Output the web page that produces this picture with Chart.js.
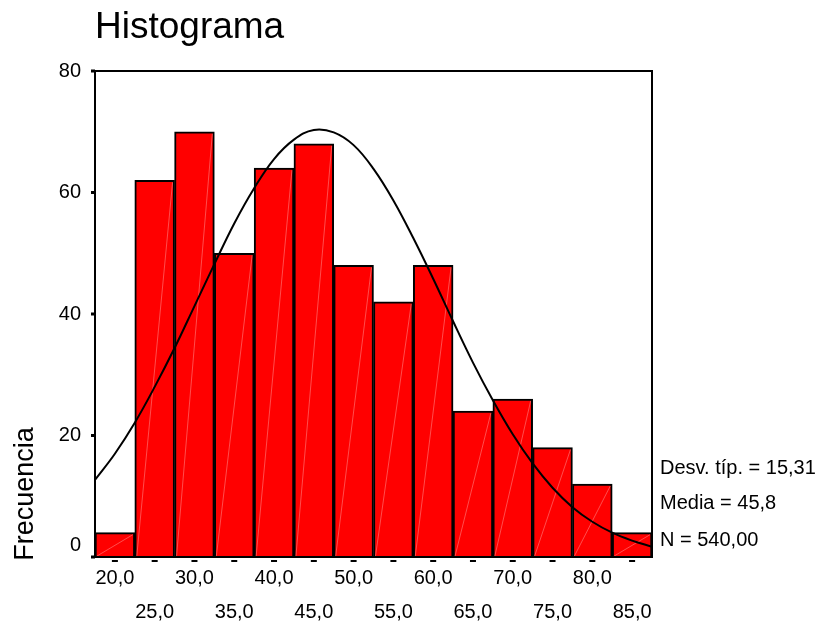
<!DOCTYPE html>
<html lang="es">
  <head>
    <meta charset="UTF-8" />
    <title>Histograma</title>
    <script src="https://cdn.jsdelivr.net/npm/chart.js"></script>
    <style>
      body {
        margin: 0;
        background: #fff;
        font-family: "Liberation Sans", Arial, sans-serif;
      }
      #chartContainer {
        width: 820px;
        height: 622px;
        position: relative;
      }
    </style>
  </head>
  <body>
    <div id="chartContainer">
      <canvas id="histChart"></canvas>
    </div>

    <script>
      // bins (class midpoints) and counts
      const binCenters = [20, 25, 30, 35, 40, 45, 50, 55, 60, 65, 70, 75, 80, 85];
      const frequencies = [4, 62, 70, 50, 64, 68, 48, 42, 48, 24, 26, 18, 12, 4];
      const xTickLabels = ["20,0", "25,0", "30,0", "35,0", "40,0", "45,0", "50,0",
        "55,0", "60,0", "65,0", "70,0", "75,0", "80,0", "85,0"];
      const yTickValues = [0, 20, 40, 60, 80];
      const yTickLabels = ["0", "20", "40", "60", "80"];

      // fitted normal curve
      const curveX = [17.5, 20, 22.5, 25, 27.5, 30, 32.5, 35, 37.5, 40, 42.5, 45, 47.5, 50,
        52.5, 55, 57.5, 60, 62.5, 65, 67.5, 70, 72.5, 75, 77.5, 80, 82.5, 85, 87.5];
      const curveY = [12.7, 17.0, 22.1, 28.0, 34.4, 41.3, 48.2, 54.9, 60.7, 65.5, 68.7, 70.3,
        69.9, 67.8, 63.9, 58.7, 52.5, 45.8, 38.8, 32.0, 25.8, 20.2, 15.4, 11.4, 8.2, 5.8,
        4.0, 2.7, 1.7];

      const statsLines = ["Desv. típ. = 15,31", "Media = 45,8", "N = 540,00"];
      const chartTitle = "Histograma";
      const yTitle = "Frecuencia";

      const FONT = '"Liberation Sans", Arial, sans-serif';

      // thin light stripe across each bar, corner to corner
      const barStripes = {
        id: "barStripes",
        afterDatasetDraw(chart, args) {
          if (args.meta.type !== "bar") return;
          const ctx = chart.ctx;
          ctx.save();
          ctx.strokeStyle = "rgba(255,140,140,0.55)";
          ctx.lineWidth = 1;
          args.meta.data.forEach((bar) => {
            const { x, y, base, width } = bar.getProps(["x", "y", "base", "width"], true);
            ctx.beginPath();
            ctx.moveTo(x - width / 2 + 2, base - 1);
            ctx.lineTo(x + width / 2 - 2, y + 2);
            ctx.stroke();
          });
          ctx.restore();
        },
      };

      // frame, ticks and all text around the plot
      const decorations = {
        id: "decorations",
        afterDraw(chart) {
          const ctx = chart.ctx;
          const area = chart.chartArea;
          const xs = chart.scales.x;
          const ys = chart.scales.y;
          ctx.save();

          ctx.strokeStyle = "#000";
          ctx.lineWidth = 2;
          ctx.strokeRect(area.left, area.top, area.right - area.left, area.bottom - area.top);

          ctx.fillStyle = "#000";
          // y tick marks + labels
          ctx.font = "20px " + FONT;
          ctx.textAlign = "right";
          ctx.textBaseline = "middle";
          yTickValues.forEach((v, i) => {
            const py = ys.getPixelForValue(v);
            ctx.fillRect(area.left - 4, py - 1.5, 4, 3);
            const lift = v === 0 ? 12 : 0;
            ctx.fillText(yTickLabels[i], area.left - 14, py - lift);
          });

          // x dashes + two rows of labels
          ctx.textAlign = "center";
          binCenters.forEach((v, i) => {
            const px = xs.getPixelForValue(v);
            ctx.fillRect(px - 3, area.bottom + 3, 6, 2);
            const row = i % 2 === 0 ? 21 : 55;
            ctx.fillText(xTickLabels[i], px, area.bottom + row);
          });

          // stats block
          ctx.textAlign = "left";
          const statsY = [468, 503, 540];
          statsLines.forEach((t, i) => ctx.fillText(t, area.right + 8, statsY[i]));

          // title
          ctx.font = "37px " + FONT;
          ctx.textBaseline = "alphabetic";
          ctx.fillText(chartTitle, area.left, 38);

          // y axis title
          ctx.font = "27px " + FONT;
          ctx.translate(33, 494);
          ctx.rotate(-Math.PI / 2);
          ctx.textAlign = "center";
          ctx.fillText(yTitle, 0, 0);

          ctx.restore();
        },
      };

      const ctx = document.getElementById("histChart").getContext("2d");
      new Chart(ctx, {
        type: "bar",
        data: {
          datasets: [
            {
              type: "line",
              data: curveX.map((x, i) => ({ x: x, y: curveY[i] })),
              borderColor: "#000",
              borderWidth: 2,
              pointRadius: 0,
              tension: 0.4,
              fill: false,
              order: 0,
            },
            {
              type: "bar",
              data: binCenters.map((x, i) => ({ x: x, y: frequencies[i] })),
              backgroundColor: "#ff0000",
              borderColor: "#000",
              borderWidth: 2,
              barPercentage: 1,
              categoryPercentage: 1,
              order: 1,
            },
          ],
        },
        options: {
          responsive: true,
          maintainAspectRatio: false,
          animation: false,
          layout: {
            padding: { top: 71, right: 168, left: 0, bottom: 0 },
          },
          scales: {
            x: {
              type: "linear",
              min: 17.5,
              max: 87.5,
              offset: false,
              ticks: { display: false },
              grid: { display: false },
              border: { display: false },
              afterFit(scale) {
                scale.height = 65;
              },
            },
            y: {
              min: 0,
              max: 80,
              ticks: { display: false },
              grid: { display: false },
              border: { display: false },
              afterFit(scale) {
                scale.width = 95;
              },
            },
          },
          plugins: {
            legend: { display: false },
            tooltip: { enabled: false },
          },
        },
        plugins: [barStripes, decorations],
      });
    </script>
  </body>
</html>
